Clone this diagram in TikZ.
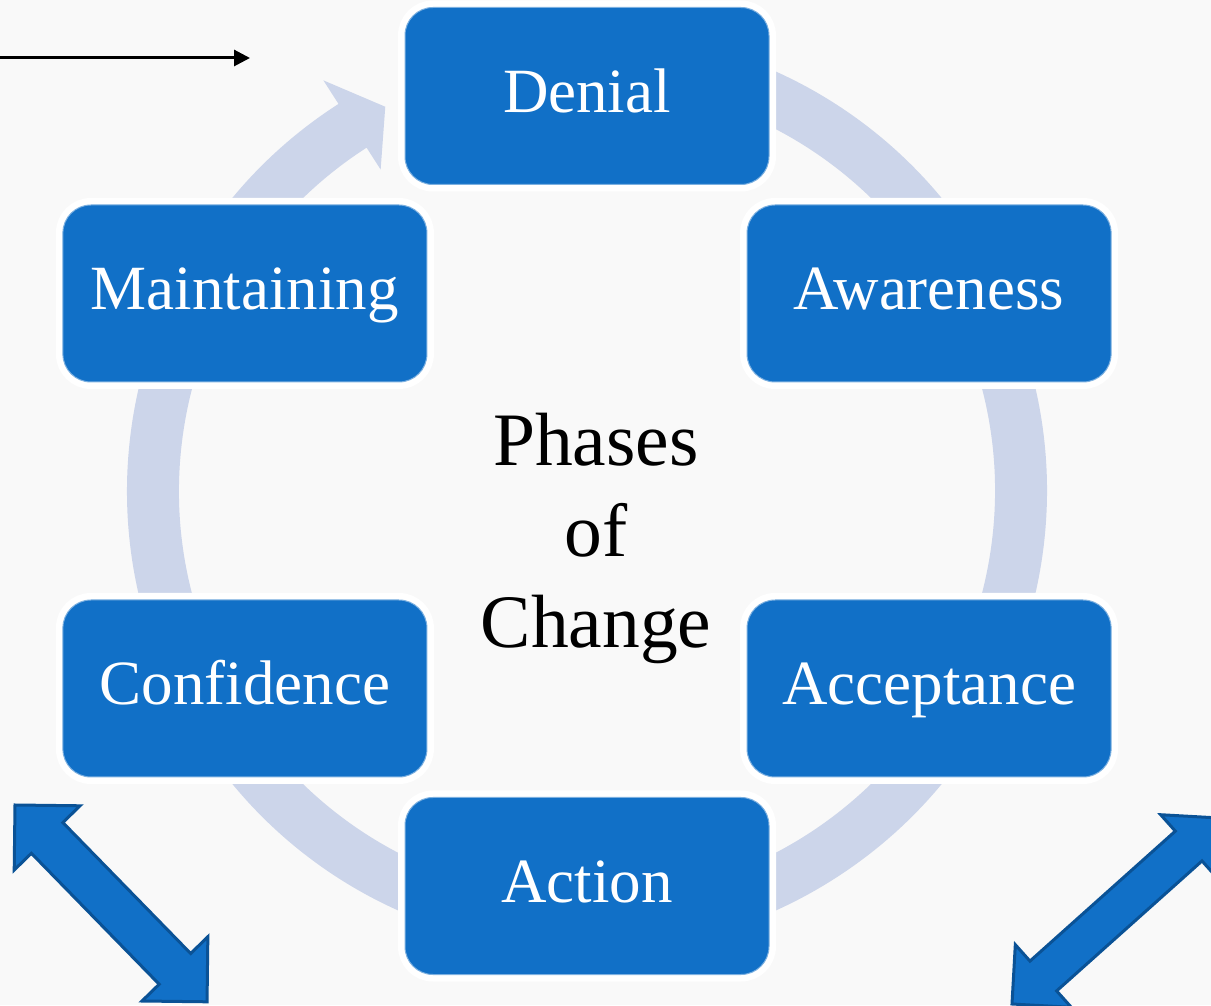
\documentclass[tikz,border=0pt]{standalone}
\usepackage{fontspec}
\setmainfont{Liberation Serif}
\usepackage{tikz}
\usetikzlibrary{arrows.meta}

\definecolor{phaseblue}{RGB}{17,112,199}
\definecolor{phaseedge}{RGB}{10,82,150}
\definecolor{ringgray}{RGB}{204,213,234}
\definecolor{paper}{RGB}{249,249,249}

\begin{document}
\begin{tikzpicture}[
    x=1pt, y=1pt,
    phase/.style={rectangle, rounded corners=28pt, minimum width=364pt, minimum height=177pt,
        fill=phaseblue, draw=white!45!phaseblue, line width=1pt,
        preaction={draw=white, line width=14pt},
        text=white, font=\fontsize{63}{70}\selectfont, text height=45pt, text depth=12pt},
    twoway/.style={fill=phaseblue, draw=phaseedge, line width=3pt, line join=miter}
]
\useasboundingbox (0,0) rectangle (1211,1005);
\fill[paper] (0,0) rectangle (1211,1005);
\clip (0,0) rectangle (1211,1005);

% cycle of phases
\begin{scope}[shift={(587,514)}]
\fill[ringgray] (122.7:408) -- (122.7:382) -- (117.7:434) -- (122.7:488) -- (122.7:460)
    arc[start angle=122.7, end angle=440, radius=460] -- (80:408)
    arc[start angle=440, end angle=122.7, radius=408] -- cycle;

\node[phase] (denial) at (90:395) {Denial};
\node[phase] (awareness) at (30:395) {Awareness};
\node[phase] (acceptance) at (-30:395) {Acceptance};
\node[phase] (action) at (-90:395) {Action};
\node[phase] (confidence) at (-150:395) {Confidence};
\node[phase] (maintaining) at (150:395) {Maintaining};

\node[font=\fontsize{75.5}{91}\selectfont, align=center, inner sep=0pt] (title) at (9,-47) {Phases\\of\\Change};
\end{scope}

% pointer at top left
\coordinate (lead-from) at (0,947);
\coordinate (lead-to) at (250,947);
\draw[line width=3pt, -{Triangle[length=16pt, width=16pt]}] (lead-from) -- (lead-to);

% double arrows in the lower corners
\begin{scope}[shift={(15,200)}, rotate=-45.7]
\draw[twoway] (0,0) -- (46,46) -- (46,22) -- (229,22) -- (229,46) -- (275,0)
    -- (229,-46) -- (229,-22) -- (46,-22) -- (46,-46) -- cycle;
\end{scope}

\begin{scope}[shift={(1012,1)}, rotate=41.8]
\draw[twoway] (0,0) -- (42,42) -- (42,20) -- (237,20) -- (237,42) -- (279,0)
    -- (237,-42) -- (237,-20) -- (42,-20) -- (42,-42) -- cycle;
\end{scope}

\end{tikzpicture}
\end{document}
